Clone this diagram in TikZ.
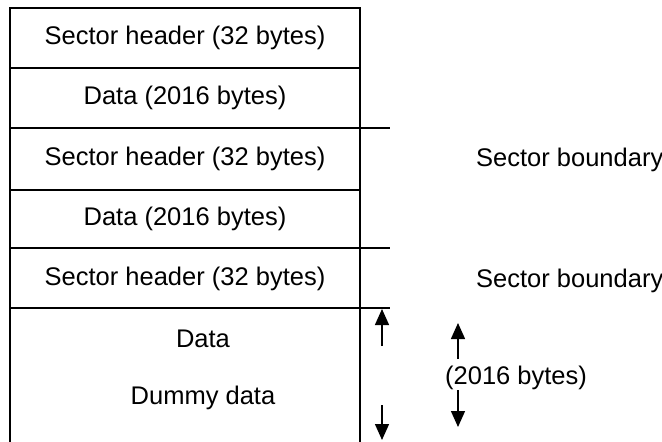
\documentclass[tikz,border=0pt]{standalone}
\usepackage{fontspec}
\setmainfont{Liberation Sans}
\usetikzlibrary{arrows.meta}
\begin{document}
\begin{tikzpicture}[x=1pt,y=-1pt,
  lbl/.style={font=\fontsize{25.5}{30}\selectfont, inner sep=0pt},
  rule/.style={line width=1.8pt},
  arr/.style={line width=1.4pt, -{Triangle[length=16pt,width=14pt]}}]
\useasboundingbox (0,0) rectangle (662,442);
% frame
\coordinate (tl) at (10,8);
\coordinate (tr) at (360,8);
\coordinate (bl) at (10,442);
\coordinate (br) at (360,442);
\draw[rule] (bl) -- (tl) -- (tr) -- (br);
\coordinate (l1) at (10,68);  \coordinate (r1) at (360,68);
\coordinate (l2) at (10,128); \coordinate (r2) at (390,128);
\coordinate (l3) at (10,190); \coordinate (r3) at (360,190);
\coordinate (l4) at (10,248); \coordinate (r4) at (390,248);
\coordinate (l5) at (10,308); \coordinate (r5) at (390,308);
\draw[rule] (l1) -- (r1);
\draw[rule] (l2) -- (r2);
\draw[rule] (l3) -- (r3);
\draw[rule] (l4) -- (r4);
\draw[rule] (l5) -- (r5);
% labels
\node[lbl] (h1) at (185,38) {Sector header (32 bytes)};
\node[lbl] (d1) at (185,98) {Data (2016 bytes)};
\node[lbl] (h2) at (185,159) {Sector header (32 bytes)};
\node[lbl] (d2) at (185,219) {Data (2016 bytes)};
\node[lbl] (h3) at (185,279) {Sector header (32 bytes)};
\node[lbl] (dt) at (203,339) {Data};
\node[lbl] (dd) at (203,398) {Dummy data};
\node[lbl,anchor=west] (sb1) at (476,160) {Sector boundary};
\node[lbl,anchor=west] (sb2) at (476,281) {Sector boundary};
\node[lbl,anchor=west] (sz) at (445,378) {(2016 bytes)};
% arrows
\coordinate (a1s) at (382,346); \coordinate (a1e) at (382,309);
\coordinate (a2s) at (382,405); \coordinate (a2e) at (382,440);
\coordinate (a3s) at (458,359); \coordinate (a3e) at (458,323);
\coordinate (a4s) at (458,390); \coordinate (a4e) at (458,427);
\draw[arr] (a1s) -- (a1e);
\draw[arr] (a2s) -- (a2e);
\draw[arr] (a3s) -- (a3e);
\draw[arr] (a4s) -- (a4e);
\end{tikzpicture}
\end{document}
